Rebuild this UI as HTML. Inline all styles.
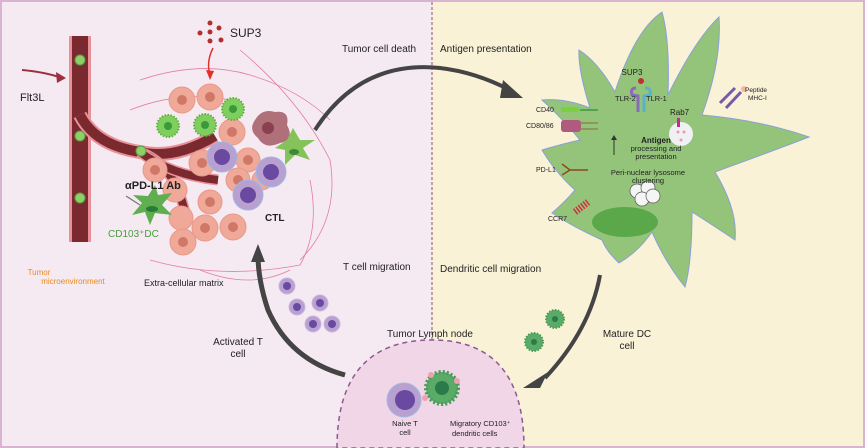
<!DOCTYPE html>
<html><head><style>
body{margin:0;width:865px;height:448px;overflow:hidden;background:#fff}
svg{display:block}
text{font-family:"Liberation Sans",sans-serif;fill:#222}
</style></head><body>
<svg width="865" height="448" viewBox="0 0 865 448">
<rect x="0" y="0" width="865" height="448" fill="#d9b3d2"/>
<rect x="2" y="2" width="430" height="444" fill="#f6eaf2"/>
<rect x="432" y="2" width="431" height="444" fill="#faf2d7"/>
<line x1="432" y1="2" x2="432" y2="446" stroke="#9a6a96" stroke-width="1.2" stroke-dasharray="3,2"/>
<g fill="none" stroke="#d9507a" stroke-width="0.8" opacity="0.7">
<path d="M140 80 Q200 60 250 75 Q300 90 330 120"/>
<path d="M150 260 Q220 280 300 265 Q320 230 310 180"/>
<path d="M240 50 Q300 100 330 160 Q340 220 300 260"/>
<path d="M130 110 Q180 90 230 100"/>
<path d="M200 270 Q250 290 290 270"/>
</g>
<g fill="none" stroke-linecap="butt">
<path d="M80 36 V242" stroke="#e8919a" stroke-width="22"/>
<path d="M80 36 V242" stroke="#7a2a2e" stroke-width="16"/>
<path d="M80 115 Q95 145 140 152 Q175 160 215 136" stroke="#e8919a" stroke-width="14"/>
<path d="M80 115 Q95 145 140 152 Q175 160 215 136" stroke="#7a2a2e" stroke-width="10"/>
<path d="M140 152 Q175 165 185 213" stroke="#e8919a" stroke-width="11"/>
<path d="M140 152 Q175 165 185 213" stroke="#7a2a2e" stroke-width="8"/>
<path d="M140 152 Q170 175 218 180" stroke="#e8919a" stroke-width="11"/>
<path d="M140 152 Q170 175 218 180" stroke="#7a2a2e" stroke-width="8"/>
</g>
<g fill="#8fcf6a" stroke="#5aa040" stroke-width="1">
<circle cx="80" cy="60" r="5"/><circle cx="80" cy="136" r="5"/><circle cx="80" cy="198" r="5"/><circle cx="141" cy="151" r="5"/>
</g>
<path d="M22 70 Q45 72 62 78" fill="none" stroke="#9a3040" stroke-width="2"/>
<polygon points="66,78 56,72 57,83" fill="#9a3040"/>
<text x="20" y="101" font-size="11">Flt3L</text>
<g fill="#b03030"><circle cx="210" cy="23" r="2.5"/><circle cx="200" cy="33" r="2.5"/><circle cx="210" cy="32" r="2.5"/><circle cx="219" cy="28" r="2.5"/><circle cx="210" cy="41" r="2.5"/><circle cx="221" cy="40" r="2.5"/></g>
<text x="230" y="37" font-size="12">SUP3</text>
<path d="M213 48 Q206 62 210 75" fill="none" stroke="#e03030" stroke-width="1.5"/>
<polygon points="210,80 206,70 214,71" fill="#e03030"/>
<g fill="#f0a898" stroke="#e89888" stroke-width="1">
<circle cx="182" cy="100" r="13"/><circle cx="210" cy="97" r="13"/><circle cx="232" cy="132" r="13"/><circle cx="202" cy="163" r="13"/><circle cx="155" cy="170" r="12"/><circle cx="175" cy="190" r="12"/><circle cx="248" cy="160" r="12"/><circle cx="238" cy="180" r="12"/><circle cx="210" cy="202" r="12"/><circle cx="181" cy="218" r="12"/><circle cx="205" cy="228" r="13"/><circle cx="233" cy="227" r="13"/><circle cx="183" cy="242" r="13"/><circle cx="262" cy="180" r="10"/>
</g>
<g fill="#d07868">
<circle cx="182" cy="100" r="5"/><circle cx="210" cy="97" r="5"/><circle cx="232" cy="132" r="5"/><circle cx="202" cy="163" r="5"/><circle cx="155" cy="170" r="5"/><circle cx="248" cy="160" r="5"/><circle cx="238" cy="180" r="5"/><circle cx="210" cy="202" r="5"/><circle cx="205" cy="228" r="5"/><circle cx="233" cy="227" r="5"/><circle cx="183" cy="242" r="5"/>
</g>
<path d="M255 120 Q262 108 275 112 Q290 110 287 125 Q295 140 280 143 Q265 150 258 138 Q248 130 255 120Z" fill="#b0707a"/>
<circle cx="268" cy="128" r="6" fill="#8a4050"/>
<g fill="#7fcf5f" stroke="#5fb040" stroke-width="2" stroke-dasharray="1.5,1.5">
<circle cx="168" cy="126" r="11"/><circle cx="205" cy="125" r="11"/><circle cx="233" cy="109" r="11"/>
</g>
<g fill="#3a9a3a"><circle cx="168" cy="126" r="4"/><circle cx="205" cy="125" r="4"/><circle cx="233" cy="109" r="4"/></g>
<polygon points="293,128 300,140 315,140 303,148 310,160 295,155 285,165 285,150 275,148 287,140" fill="#86c25a"/>
<ellipse cx="294" cy="152" rx="5" ry="3" fill="#3a8a3a"/>
<polygon points="155,185 158,195 172,193 162,205 172,215 155,213 150,225 145,212 132,215 142,203 133,195 148,196" fill="#5fae50"/>
<ellipse cx="152" cy="209" rx="6" ry="3" fill="#2a7a3a"/>
<path d="M126 196 L140 205" stroke="#777" stroke-width="1.2"/>
<text x="125" y="189" font-size="11" font-weight="bold">αPD-L1 Ab</text>
<text x="108" y="237" font-size="10" style="fill:#4a9a40">CD103⁺DC</text>
<g fill="#b8a0d0" stroke="#a0b8e0" stroke-width="1"><circle cx="222" cy="157" r="15"/><circle cx="271" cy="172" r="15"/><circle cx="248" cy="195" r="15"/></g>
<g fill="#6a4aa0"><circle cx="222" cy="157" r="8"/><circle cx="271" cy="172" r="8"/><circle cx="248" cy="195" r="8"/></g>
<text x="265" y="221" font-size="10" font-weight="bold">CTL</text>
<text x="39" y="275" font-size="8" style="fill:#e88a20" text-anchor="middle">Tumor</text>
<text x="73" y="284" font-size="8" style="fill:#e88a20" text-anchor="middle">microenvironment</text>
<text x="144" y="286" font-size="9">Extra-cellular matrix</text>
<text x="342" y="52" font-size="10">Tumor cell death</text>
<text x="343" y="270" font-size="10">T cell migration</text>
<text x="440" y="52" font-size="10">Antigen presentation</text>
<text x="440" y="272" font-size="10">Dendritic cell migration</text>
<path d="M315 130 Q360 60 440 68 Q475 72 510 90" fill="none" stroke="#444" stroke-width="4"/>
<polygon points="523,98 503,80 500,98" fill="#444"/>
<path d="M345 375 Q290 360 268 310 Q258 280 258 255" fill="none" stroke="#444" stroke-width="5"/>
<polygon points="258,244 251,262 265,262" fill="#444"/>
<path d="M600 275 Q590 330 545 378" fill="none" stroke="#444" stroke-width="4"/>
<polygon points="523,388 548,372 540,388" fill="#444"/>
<g fill="#b8a0d0" stroke="#c8b8e0"><circle cx="287" cy="286" r="8"/><circle cx="297" cy="307" r="8"/><circle cx="320" cy="303" r="8"/><circle cx="313" cy="324" r="8"/><circle cx="332" cy="324" r="8"/></g>
<g fill="#6a4aa0"><circle cx="287" cy="286" r="4"/><circle cx="297" cy="307" r="4"/><circle cx="320" cy="303" r="4"/><circle cx="313" cy="324" r="4"/><circle cx="332" cy="324" r="4"/></g>
<text x="238" y="345" font-size="10" text-anchor="middle">Activated T</text>
<text x="238" y="357" font-size="10" text-anchor="middle">cell</text>
<path d="M542,100 Q565,98 590,108 Q578,70 579,50 Q598,62 615,92 Q635,30 662,12 Q670,40 668,95 Q695,40 719,17 Q722,60 702,115 Q760,120 809,137 Q770,152 715,172 Q738,210 735,240 Q708,222 692,212 Q692,262 685,287 Q665,262 652,232 Q638,252 619,263 Q607,252 602,240 Q575,228 552,213 Q565,202 575,190 Q555,172 542,150 Q562,144 580,140 Q562,118 542,100Z" fill="#94c47a" stroke="#8aa0d8" stroke-width="1"/>
<ellipse cx="625" cy="222" rx="33" ry="15" fill="#5aa84a"/>
<g fill="#f5f5f5" stroke="#555" stroke-width="0.7"><circle cx="637" cy="191" r="7"/><circle cx="648" cy="188" r="7"/><circle cx="642" cy="199" r="7"/><circle cx="653" cy="196" r="7"/></g>
<circle cx="681" cy="134" r="12" fill="#f0f0f5"/>
<rect x="677" y="118" width="3" height="9" fill="#c03090"/>
<g fill="#e8a0a8"><circle cx="678" cy="132" r="1.5"/><circle cx="684" cy="132" r="1.5"/><circle cx="681" cy="140" r="1.5"/></g>
<text x="670" y="115" font-size="8">Rab7</text>
<text x="632" y="75" font-size="8" text-anchor="middle">SUP3</text>
<circle cx="641" cy="81" r="3" fill="#c03030"/>
<path d="M636 88 Q630 88 632 95 L638 96 V112" fill="none" stroke="#8a6ab8" stroke-width="3"/>
<path d="M645 88 Q652 88 650 95 L644 96 V112" fill="none" stroke="#5ab0d0" stroke-width="3"/>
<text x="615" y="101" font-size="7.5">TLR-2</text>
<text x="646" y="101" font-size="7.5">TLR-1</text>
<text x="656" y="143" font-size="8" font-weight="bold" text-anchor="middle">Antigen</text>
<text x="656" y="151" font-size="7.5" text-anchor="middle">processing and</text>
<text x="656" y="159" font-size="7.5" text-anchor="middle">presentation</text>
<path d="M614 155 V138" stroke="#333" stroke-width="1"/><polygon points="614,135 611,140 617,140" fill="#333"/>
<text x="648" y="175" font-size="7.5" text-anchor="middle">Peri-nuclear lysosome</text>
<text x="648" y="183" font-size="7.5" text-anchor="middle">clustering</text>
<text x="536" y="112" font-size="7">CD40</text>
<rect x="561" y="107" width="18" height="5" rx="2" fill="#7ad040"/>
<path d="M580 110 H598" stroke="#3a9a3a" stroke-width="1.5"/>
<text x="526" y="128" font-size="7">CD80/86</text>
<rect x="561" y="120" width="20" height="12" rx="3" fill="#b05a80"/>
<path d="M581 123 H598 M581 129 H598" stroke="#8a4a20" stroke-width="0.8"/>
<text x="536" y="172" font-size="7">PD-L1</text>
<path d="M562 164 L570 170 L588 170 M562 175 L570 170" stroke="#8a4a20" stroke-width="1.5" fill="none"/>
<text x="548" y="221" font-size="7">CCR7</text>
<path d="M575 212 L588 202" stroke="#d03040" stroke-width="7" stroke-dasharray="1.5,1.5"/>
<path d="M720 103 L735 88 M726 108 L741 92" stroke="#7a5aa8" stroke-width="3"/>
<circle cx="744" cy="89" r="3" fill="#f0b8a0"/>
<text x="745" y="92" font-size="6.5">Peptide</text>
<text x="748" y="100" font-size="6.5">MHC-I</text>
<g fill="#5aaa68" stroke="#4a9a58" stroke-width="2" stroke-dasharray="1.5,1.5"><circle cx="555" cy="319" r="9"/><circle cx="534" cy="342" r="9"/></g>
<g fill="#2a7a4a"><circle cx="555" cy="319" r="3"/><circle cx="534" cy="342" r="3"/></g>
<text x="627" y="337" font-size="10" text-anchor="middle">Mature  DC</text>
<text x="627" y="349" font-size="10" text-anchor="middle">cell</text>
<path d="M337 448 Q337 340 432 340 Q524 340 524 448Z" fill="#f1d6e8" stroke="#8a5a90" stroke-width="1.5" stroke-dasharray="5,4"/>
<text x="430" y="337" font-size="10" text-anchor="middle">Tumor Lymph node</text>
<circle cx="404" cy="400" r="17" fill="#b8a0d0" stroke="#a0b8e0"/>
<circle cx="405" cy="400" r="10" fill="#6a4aa0"/>
<circle cx="442" cy="388" r="16" fill="#5aaa68" stroke="#4a9a58" stroke-width="4" stroke-dasharray="2,2"/>
<circle cx="442" cy="388" r="7" fill="#2a7a4a"/>
<g fill="#f0a0b0"><circle cx="431" cy="375" r="3"/><circle cx="457" cy="381" r="3"/><circle cx="425" cy="398" r="3"/></g>
<text x="405" y="426" font-size="7.5" text-anchor="middle">Naive T</text>
<text x="405" y="435" font-size="7.5" text-anchor="middle">cell</text>
<text x="450" y="426" font-size="7.5">Migratory CD103⁺</text>
<text x="452" y="436" font-size="7.5">dendritic cells</text>
</svg>
</body></html>
